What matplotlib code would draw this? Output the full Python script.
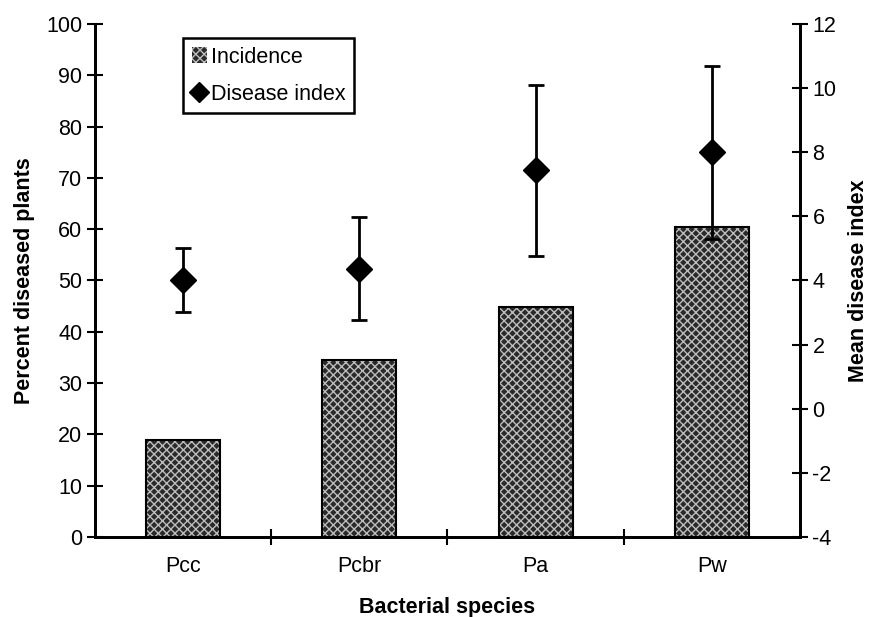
import numpy as np
import matplotlib.pyplot as plt
from matplotlib.patches import Patch
from matplotlib.lines import Line2D

plt.rcParams['font.family'] = ['Liberation Sans', 'DejaVu Sans']
plt.rcParams['axes.unicode_minus'] = False

species = ['Pcc', 'Pcbr', 'Pa', 'Pw']
incidence = [18.9, 34.4, 44.9, 60.4]          # percent diseased plants
disease_index = [4.0, 4.35, 7.45, 8.0]       # mean disease index
err_low = [1.0, 1.6, 2.7, 2.7]
err_high = [1.0, 1.63, 2.65, 2.7]

fig = plt.figure(figsize=(8.79, 6.17), dpi=100)
ax = fig.add_axes([0.108, 0.130, 0.802, 0.831])
ax2 = ax.twinx()

x = np.arange(len(species))
w = 0.42
# bar fill with light crosshatch, then black outline on top
ax.bar(x, incidence, width=w, color='#2a2a2a', edgecolor='#bdbdbd',
       hatch='xxxx', linewidth=0, zorder=2)
ax.bar(x, incidence, width=w, fill=False, edgecolor='black', linewidth=1.5, zorder=3)

ax2.errorbar(x, disease_index, yerr=[err_low, err_high], fmt='D', color='black',
             markersize=13, elinewidth=2, capsize=5.5, capthick=2, zorder=4)

ax.set_xlim(-0.5, 3.5)
ax.set_ylim(0, 100)
ax.set_yticks(range(0, 101, 10))
ax2.set_ylim(-4, 12)
ax2.set_yticks(range(-4, 13, 2))

ax.set_xticks(x)
ax.set_xticklabels(species)
ax.set_xticks([0.5, 1.5, 2.5], minor=True)
ax.tick_params(axis='x', which='major', length=0, pad=14, labelsize=15.5)
ax.tick_params(axis='x', which='minor', direction='inout', length=12, width=1.5)
ax.tick_params(axis='y', direction='inout', length=12, width=1.5, labelsize=15.5, pad=3)
ax2.tick_params(axis='y', direction='inout', length=12, width=1.5, labelsize=15.5, pad=3)

for a in (ax, ax2):
    a.spines['top'].set_visible(False)
    for s in ('left', 'right', 'bottom'):
        a.spines[s].set_linewidth(2)

ax.set_xlabel('Bacterial species', fontsize=15.5, fontweight='bold', labelpad=14)
ax.set_ylabel('Percent diseased plants', fontsize=15.5, fontweight='bold', labelpad=8)
ax2.set_ylabel('Mean disease index', fontsize=15.5, fontweight='bold', labelpad=8)

handles = [Patch(facecolor='#2a2a2a', edgecolor='#bdbdbd', hatch='xxxx', linewidth=0),
           Line2D([], [], marker='D', color='black', linestyle='none', markersize=10)]
leg = ax2.legend(handles, ['Incidence', 'Disease index'], loc='upper left',
                 bbox_to_anchor=(0.125, 0.973), fontsize=15.5, fancybox=False,
                 framealpha=1, edgecolor='black', handlelength=0.7, handletextpad=0.2,
                 borderpad=0.4, labelspacing=0.75, borderaxespad=0)
leg.get_frame().set_linewidth(1.8)

fig.savefig('out.png', dpi=100)
